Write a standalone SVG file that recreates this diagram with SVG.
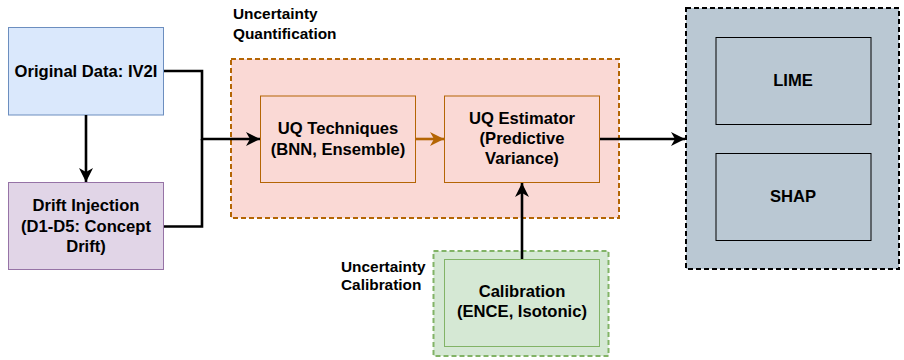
<svg xmlns="http://www.w3.org/2000/svg" width="904" height="360" viewBox="0 0 904 360">
  <defs>
    <style>
      .t { font-family: "Liberation Sans", Arial, Helvetica, sans-serif; font-weight: bold; font-size: 16.6px; fill: #000; text-anchor: middle; }
      .lbl { font-family: "Liberation Sans", Arial, Helvetica, sans-serif; font-weight: bold; font-size: 15.4px; fill: #000; }
      .conn { fill: none; stroke: #000; stroke-width: 2.6; }
    </style>
    <marker id="arr" markerUnits="userSpaceOnUse" markerWidth="16" markerHeight="16" refX="14" refY="7" orient="auto">
      <path d="M0,0 L14,7 L0,14 L4,7 Z" fill="#000"/>
    </marker>
    <marker id="arrOrange" markerUnits="userSpaceOnUse" markerWidth="16" markerHeight="16" refX="14" refY="7" orient="auto">
      <path d="M0,0 L14,7 L0,14 L4,7 Z" fill="#b46504"/>
    </marker>
  </defs>

  <rect width="904" height="360" fill="#fff"/>

  <!-- group containers -->
  <g id="uq-container">
    <rect x="231" y="59" width="388" height="159" fill="#fad9d5" stroke="#b46504" stroke-width="2" stroke-dasharray="5 3"/>
    <text class="lbl" x="233" y="18.5">Uncertainty</text>
    <text class="lbl" x="233" y="38.5">Quantification</text>
  </g>
  <g id="calibration-container">
    <rect x="433.5" y="251" width="175" height="105" fill="#d5e8d4" stroke="#82b366" stroke-width="2" stroke-dasharray="5 3"/>
    <text class="lbl" x="341" y="272">Uncertainty</text>
    <text class="lbl" x="341" y="290">Calibration</text>
  </g>
  <g id="explain-container">
    <rect x="686" y="8" width="213" height="261" fill="#bac8d3" stroke="#000" stroke-width="2" stroke-dasharray="5 3"/>
  </g>

  <!-- nodes -->
  <g id="original-data">
    <rect x="8.5" y="27.5" width="155" height="87.5" fill="#dae8fc" stroke="#6c8ebf"/>
    <text class="t" x="86" y="76.5">Original Data: IV2I</text>
  </g>
  <g id="drift-injection">
    <rect x="8.5" y="182.5" width="155" height="87" fill="#e1d5e7" stroke="#9673a6"/>
    <text class="t" x="86" y="211">Drift Injection</text>
    <text class="t" x="86" y="231.5">(D1-D5: Concept</text>
    <text class="t" x="86" y="252">Drift)</text>
  </g>
  <g id="uq-techniques">
    <rect x="260.5" y="96" width="155" height="86.5" fill="#fad9d5" stroke="#b46504"/>
    <text class="t" x="338" y="134">UQ Techniques</text>
    <text class="t" x="338" y="154.5">(BNN, Ensemble)</text>
  </g>
  <g id="uq-estimator">
    <rect x="444.5" y="96" width="155" height="86.5" fill="#fad9d5" stroke="#b46504"/>
    <text class="t" x="522" y="124">UQ Estimator</text>
    <text class="t" x="522" y="144">(Predictive</text>
    <text class="t" x="522" y="164">Variance)</text>
  </g>
  <g id="calibration">
    <rect x="444.5" y="259.5" width="155" height="87" fill="#d5e8d4" stroke="#82b366"/>
    <text class="t" x="522" y="297">Calibration</text>
    <text class="t" x="522" y="317">(ENCE, Isotonic)</text>
  </g>
  <g id="lime">
    <rect x="716" y="37.5" width="155" height="87" fill="#bac8d3" stroke="#000"/>
    <text class="t" x="793" y="85.5">LIME</text>
  </g>
  <g id="shap">
    <rect x="716" y="153.5" width="155" height="87" fill="#bac8d3" stroke="#000"/>
    <text class="t" x="793" y="202">SHAP</text>
  </g>

  <!-- connectors -->
  <g id="connectors">
    <path class="conn" d="M86,115 L86,182" marker-end="url(#arr)"/>
    <path class="conn" d="M164,71 L202,71 L202,139 L260,139" marker-end="url(#arr)"/>
    <path class="conn" d="M164,226.5 L202,226.5 L202,139"/>
    <path fill="none" stroke="#b46504" stroke-width="2.6" d="M416,139 L444,139" marker-end="url(#arrOrange)"/>
    <path class="conn" d="M600,139 L685,139" marker-end="url(#arr)"/>
    <path class="conn" d="M522,259 L522,183" marker-end="url(#arr)"/>
  </g>
</svg>
